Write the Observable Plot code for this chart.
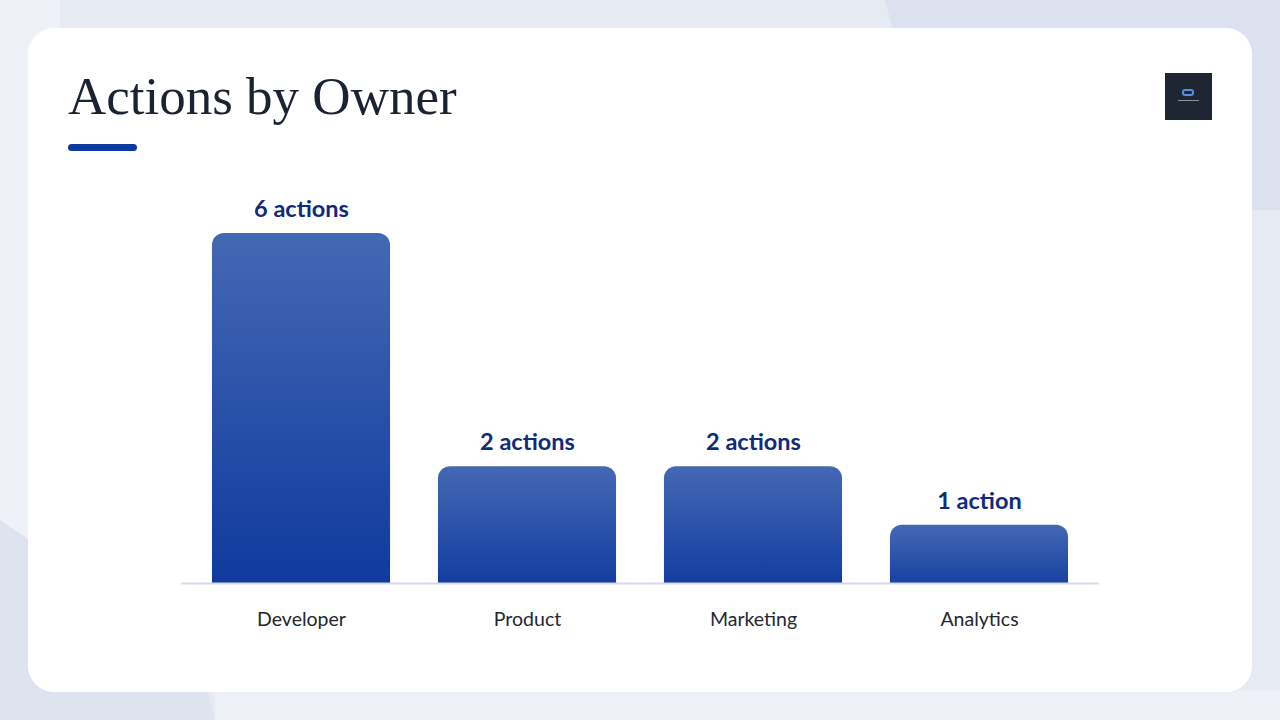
<!DOCTYPE html>
<html>
<head>
<meta charset="utf-8">
<script src="https://cdn.jsdelivr.net/npm/d3@7"></script>
<script src="https://cdn.jsdelivr.net/npm/@observablehq/plot@0.6"></script>
<style>
  html, body { margin: 0; padding: 0; }
  body { width: 1280px; height: 720px; background: #e5eaf3; position: relative; overflow: hidden; font-family: Lato, "Open Sans", sans-serif; }
  .shape1 { position: absolute; left: 0; top: 0; width: 1280px; height: 720px; background: #dbe1ee; clip-path: polygon(885px 0, 1280px 0, 1280px 210px, 940px 210px); }
  .shape2 { position: absolute; left: 0; top: 0; width: 1280px; height: 720px; background: #eef1f7; clip-path: polygon(0 0, 0 520px, 60px 560px, 60px 0); }
  .shape3 { position: absolute; left: 0; top: 0; width: 1280px; height: 720px; background: #dde3ef; clip-path: polygon(0 520px, 200px 660px, 215px 720px, 0 720px); }
  .shape4 { position: absolute; left: 0; top: 0; width: 1280px; height: 720px; background: #edf0f6; clip-path: polygon(215px 690px, 1280px 690px, 1280px 720px, 215px 720px); }
  .card { position: absolute; left: 28px; top: 28px; width: 1224px; height: 664px; background: #ffffff; border-radius: 26px; }
  .title { position: absolute; left: 68px; top: 66px; font-family: "Liberation Serif", "DejaVu Serif", serif; font-size: 53px; color: #1b2333; line-height: 60px; white-space: nowrap; }
  .accent { position: absolute; left: 68px; top: 144px; width: 69px; height: 7px; border-radius: 4px; background: #0d3a9e; }
  .logo { position: absolute; left: 1165px; top: 73px; width: 47px; height: 47px; background: #1f2633; }
  .logo .ic { position: absolute; left: 17px; top: 16px; width: 12px; height: 7px; border: 2px solid #5b8ee0; border-radius: 3px; box-sizing: border-box; }
  .logo .ln { position: absolute; left: 13px; top: 27px; width: 21px; height: 1px; background: #8a94a6; }
  #chart { position: absolute; left: 0; top: 170px; }
</style>
</head>
<body>
<div class="shape1"></div>
<div class="shape2"></div>
<div class="shape3"></div>
<div class="shape4"></div>
<div class="card"></div>
<div class="title">Actions by Owner</div>
<div class="accent"></div>
<div class="logo"><div class="ic"></div><div class="ln"></div></div>
<div id="chart"></div>
<script>
const owners = ["Developer", "Product", "Marketing", "Analytics"];
const counts = [6, 2, 2, 1];
const labels = ["6 actions", "2 actions", "2 actions", "1 action"];

const data = owners.map((o, i) => ({owner: o, count: counts[i], label: labels[i]}));

const defs = () => {
  const g = d3.create("svg:defs");
  const lg = g.append("linearGradient").attr("id", "barGrad").attr("x1", 0).attr("y1", 0).attr("x2", 0).attr("y2", 1);
  lg.append("stop").attr("offset", "0%").attr("stop-color", "#4568b4");
  lg.append("stop").attr("offset", "100%").attr("stop-color", "#0d389e");
  return g.node();
};

const chart = Plot.plot({
  width: 1280,
  height: 480,
  marginLeft: 181,
  marginRight: 181,
  marginTop: 63,
  marginBottom: 67,
  style: {fontFamily: "Lato, 'Open Sans', sans-serif", fontSize: "19.5px", color: "#222831", background: "transparent"},
  x: {domain: owners, paddingInner: 0.212, paddingOuter: 0.137, round: false, tickSize: 0, tickPadding: 29, label: null},
  y: {domain: [0, 6], axis: null},
  marks: [
    defs,
    // bars extend slightly below the baseline so the rounded bottom corners are clipped away
    Plot.barY(data, {x: "owner", y1: -0.25, y2: "count", fill: "url(#barGrad)", rx: 12, clip: true}),
    Plot.ruleY([0], {stroke: "#d3dbea", strokeWidth: 2}),
    Plot.text(data, {x: "owner", y: "count", text: "label", dy: -24, fontSize: 23.5, fontWeight: 700, fill: "#102a7c"})
  ]
});
document.getElementById("chart").appendChild(chart);
</script>
</body>
</html>
